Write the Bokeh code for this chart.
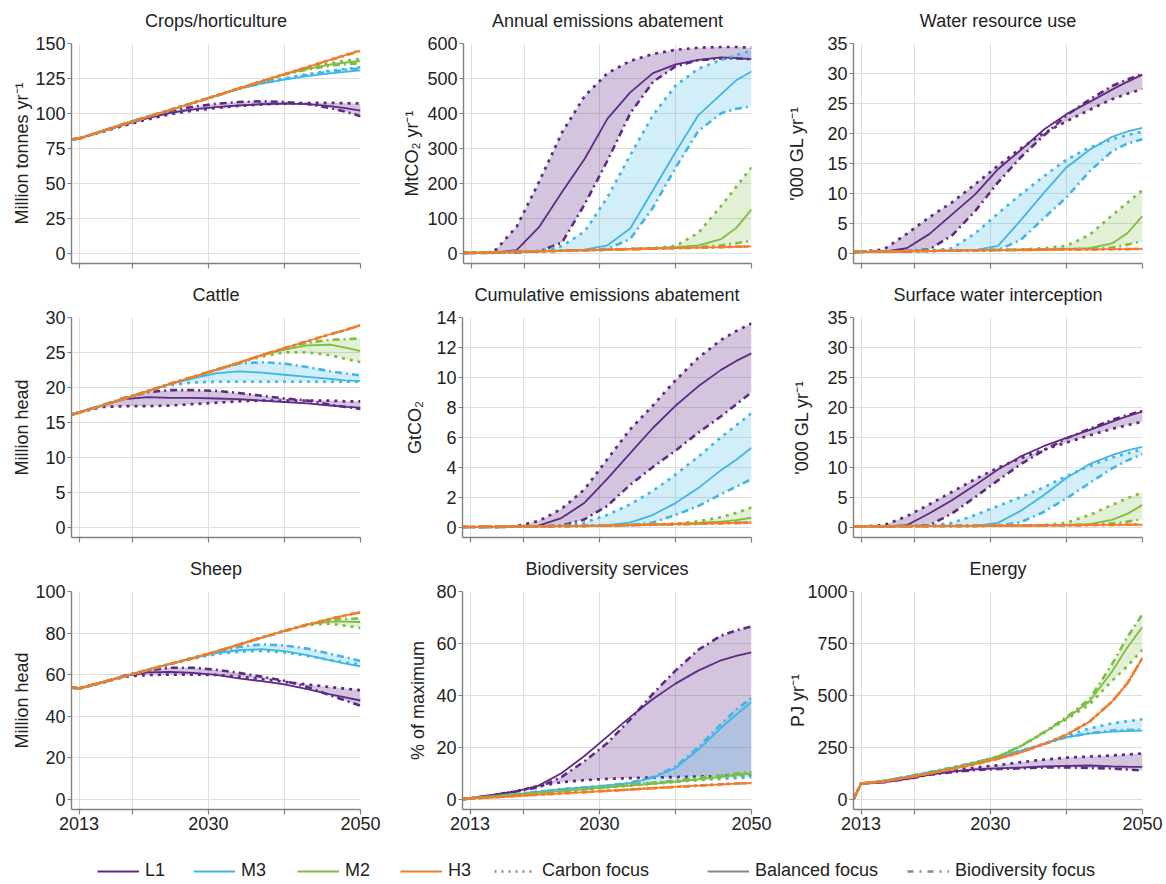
from bokeh.plotting import figure
from bokeh.models import Range1d, FixedTicker, Legend, LegendItem
from bokeh.layouts import column, row
from bokeh.embed import file_html
from bokeh.resources import INLINE

YEARS = [2012, 2013, 2016, 2019, 2022, 2025, 2028, 2031, 2034, 2037, 2040, 2043, 2046, 2048, 2050]
SCENARIOS = ["L1", "M3", "M2", "H3"]
VARIANTS = ["carbon", "balanced", "biodiv"]
X_TICKS = [2013, 2020, 2030, 2040, 2050]

crops = {
    "L1": {"carbon": [81.2, 82, 86.6, 91.4, 95.7, 99.4, 102, 103.8, 105.3, 106.4, 107, 107.4, 107.5, 107.3, 107],
           "balanced": [81.2, 82, 87, 92, 96.5, 100.3, 102.9, 104.5, 105.6, 106.5, 107, 106.6, 105.2, 103.8, 102],
           "biodiv": [81.2, 82, 87.2, 92.6, 97.6, 101.8, 104.8, 106.8, 108.1, 108.6, 108.2, 106.7, 103.8, 101.2, 98]},
    "M3": {"carbon": [81.2, 82, 87.2, 92.5, 97.5, 102.5, 107.5, 112.6, 117.7, 121.8, 125, 128, 130.5, 131.8, 133],
           "balanced": [81.2, 82, 87.2, 92.5, 97.5, 102.5, 107.5, 112.6, 117.6, 121.3, 124.2, 126.6, 128.6, 129.7, 130.7],
           "biodiv": [81.2, 82, 87.2, 92.5, 97.5, 102.5, 107.5, 112.6, 117.7, 121.5, 124.6, 127.4, 129.8, 131, 132.2]},
    "M2": {"carbon": [81.2, 82, 87.2, 92.5, 97.5, 102.5, 107.5, 112.6, 117.8, 122.9, 128, 132.3, 135.8, 137.6, 139],
           "balanced": [81.2, 82, 87.2, 92.5, 97.5, 102.5, 107.5, 112.6, 117.8, 122.9, 128, 131.8, 134.8, 136.3, 137.5],
           "biodiv": [81.2, 82, 87.2, 92.5, 97.5, 102.5, 107.5, 112.6, 117.8, 122.9, 127.8, 131.3, 134, 135.2, 136]},
    "H3": {"carbon": [81.2, 82, 87.2, 92.5, 97.5, 102.5, 107.6, 112.7, 117.9, 123, 128.1, 133.2, 138.4, 141.8, 145.2],
           "balanced": [81.2, 82, 87.2, 92.5, 97.5, 102.5, 107.5, 112.6, 117.8, 122.9, 128, 133.1, 138.2, 141.6, 145],
           "biodiv": [81.2, 82, 87.2, 92.4, 97.4, 102.4, 107.4, 112.5, 117.7, 122.8, 127.9, 133, 138, 141.4, 144.8]},
}

annual = {
    "L1": {"carbon": [0, 0, 3, 75, 205, 345, 450, 515, 550, 570, 582, 588, 590, 590, 588],
           "balanced": [0, 0, 0.5, 8, 75, 175, 270, 385, 460, 515, 540, 553, 560, 558, 555],
           "biodiv": [0, 0, 0.5, 2, 5, 30, 140, 265, 400, 490, 535, 552, 557, 557, 555]},
    "M3": {"carbon": [0, 0.5, 2, 3.5, 6, 20, 62, 160, 280, 395, 480, 528, 553, 567, 580],
           "balanced": [0, 0.5, 2, 3.5, 5, 7, 10, 22, 70, 180, 290, 395, 455, 495, 520],
           "biodiv": [0, 0.5, 2, 3.5, 5, 6.5, 8, 12, 40, 130, 245, 350, 400, 413, 420]},
    "M2": {"carbon": [0, 0.5, 2, 3.5, 5, 6.5, 8, 10, 12, 14, 20, 58, 135, 190, 245],
           "balanced": [0, 0.5, 2, 3.5, 5, 6.5, 8, 10, 12, 14, 17, 22, 40, 72, 125],
           "biodiv": [0, 0.5, 2, 3.5, 5, 6.5, 8, 9.5, 11, 13, 15, 17, 22, 28, 35]},
    "H3": {"carbon": [0, 0.5, 2, 3.5, 5, 6.5, 8, 9.5, 11, 12.5, 14, 15.5, 17, 18, 19],
           "balanced": [0, 0.5, 2, 3.5, 5, 6.5, 8, 9.5, 11, 12.5, 14, 15.5, 17, 18, 19],
           "biodiv": [0, 0.5, 2, 3.5, 5, 6.5, 8, 9.5, 11, 12.5, 14, 15.5, 17, 18, 19]},
}

water = {
    "L1": {"carbon": [0.2, 0.2, 0.6, 3.2, 6.0, 8.5, 11.5, 14.6, 17.5, 20.0, 22.0, 23.9, 25.7, 26.6, 27.4],
           "balanced": [0.2, 0.2, 0.25, 0.8, 3.2, 6.5, 9.8, 14.0, 17.2, 20.6, 23.2, 25.2, 27.3, 28.6, 29.8],
           "biodiv": [0.2, 0.2, 0.25, 0.3, 0.6, 3.0, 7.0, 11.8, 16.0, 19.6, 23.0, 25.6, 27.9, 29.0, 29.9]},
    "M3": {"carbon": [0.2, 0.2, 0.25, 0.3, 0.35, 0.8, 3.3, 6.6, 9.8, 12.8, 15.6, 17.6, 19.0, 19.7, 20.3],
           "balanced": [0.2, 0.2, 0.25, 0.3, 0.35, 0.4, 0.5, 1.2, 5.5, 10.0, 14.3, 17.2, 19.4, 20.3, 20.9],
           "biodiv": [0.2, 0.2, 0.25, 0.3, 0.35, 0.4, 0.45, 0.5, 2.2, 5.8, 9.3, 13.6, 17.0, 18.3, 19.0]},
    "M2": {"carbon": [0.2, 0.2, 0.25, 0.3, 0.35, 0.4, 0.45, 0.5, 0.6, 0.8, 1.2, 3.0, 6.3, 8.4, 10.5],
           "balanced": [0.2, 0.2, 0.25, 0.3, 0.35, 0.4, 0.45, 0.5, 0.55, 0.6, 0.7, 0.8, 1.6, 3.3, 6.2],
           "biodiv": [0.2, 0.2, 0.25, 0.3, 0.35, 0.4, 0.45, 0.5, 0.55, 0.6, 0.65, 0.7, 0.9, 1.4, 2.0]},
    "H3": {"carbon": [0.2, 0.2, 0.25, 0.3, 0.35, 0.4, 0.45, 0.5, 0.5, 0.55, 0.6, 0.6, 0.65, 0.65, 0.7],
           "balanced": [0.2, 0.2, 0.25, 0.3, 0.35, 0.4, 0.45, 0.5, 0.5, 0.55, 0.6, 0.6, 0.65, 0.65, 0.7],
           "biodiv": [0.2, 0.2, 0.25, 0.3, 0.35, 0.4, 0.45, 0.5, 0.5, 0.55, 0.6, 0.6, 0.65, 0.65, 0.7]},
}

cattle = {
    "L1": {"carbon": [16.1, 16.4, 17.2, 17.3, 17.3, 17.4, 17.6, 17.8, 18.0, 18.1, 18.1, 18.1, 18.1, 18.0, 18.0],
           "balanced": [16.1, 16.4, 17.4, 18.3, 18.6, 18.5, 18.5, 18.4, 18.3, 18.1, 17.9, 17.7, 17.4, 17.2, 17.1],
           "biodiv": [16.1, 16.4, 17.4, 18.5, 19.3, 19.6, 19.6, 19.5, 19.2, 18.8, 18.4, 18.1, 17.5, 17.2, 16.9]},
    "M3": {"carbon": [16.1, 16.4, 17.4, 18.4, 19.45, 20.3, 20.7, 20.8, 20.8, 20.8, 20.8, 20.8, 20.8, 20.8, 20.8],
           "balanced": [16.1, 16.4, 17.4, 18.4, 19.45, 20.5, 21.3, 22.0, 22.3, 22.1, 21.8, 21.5, 21.2, 21.0, 20.9],
           "biodiv": [16.1, 16.4, 17.4, 18.4, 19.45, 20.5, 21.4, 22.5, 23.4, 23.6, 23.4, 22.9, 22.3, 22.0, 21.7]},
    "M2": {"carbon": [16.1, 16.4, 17.4, 18.4, 19.45, 20.5, 21.5, 22.5, 23.5, 24.4, 25.0, 25.0, 24.6, 24.1, 23.6],
           "balanced": [16.1, 16.4, 17.4, 18.4, 19.45, 20.5, 21.5, 22.5, 23.5, 24.6, 25.4, 26.0, 26.1, 25.7, 25.2],
           "biodiv": [16.1, 16.4, 17.4, 18.4, 19.45, 20.5, 21.5, 22.5, 23.5, 24.6, 25.6, 26.4, 26.8, 26.9, 27.0]},
    "H3": {"carbon": [16.1, 16.4, 17.4, 18.4, 19.45, 20.5, 21.5, 22.5, 23.5, 24.6, 25.6, 26.6, 27.6, 28.2, 28.9],
           "balanced": [16.1, 16.4, 17.4, 18.4, 19.45, 20.5, 21.5, 22.5, 23.5, 24.6, 25.6, 26.6, 27.6, 28.2, 28.9],
           "biodiv": [16.1, 16.4, 17.4, 18.4, 19.45, 20.5, 21.5, 22.5, 23.5, 24.6, 25.6, 26.6, 27.6, 28.2, 28.9]},
}

cumulative = {
    "L1": {"carbon": [0, 0, 0.01, 0.05, 0.4, 1.2, 2.5, 4.5, 6.5, 8.1, 9.8, 11.3, 12.5, 13.1, 13.6],
           "balanced": [0, 0, 0.01, 0.02, 0.1, 0.6, 1.6, 3.2, 4.9, 6.6, 8.1, 9.4, 10.5, 11.1, 11.6],
           "biodiv": [0, 0, 0.01, 0.02, 0.04, 0.1, 0.5, 1.4, 2.8, 4.0, 5.1, 6.3, 7.4, 8.2, 9.0]},
    "M3": {"carbon": [0, 0, 0.01, 0.02, 0.04, 0.08, 0.3, 0.8, 1.5, 2.4, 3.5, 4.7, 6.0, 6.8, 7.6],
           "balanced": [0, 0, 0.01, 0.02, 0.04, 0.06, 0.08, 0.12, 0.3, 0.8, 1.6, 2.6, 3.8, 4.5, 5.3],
           "biodiv": [0, 0, 0.01, 0.02, 0.04, 0.06, 0.08, 0.1, 0.12, 0.3, 0.8, 1.4, 2.2, 2.7, 3.2]},
    "M2": {"carbon": [0, 0, 0.01, 0.02, 0.04, 0.06, 0.08, 0.1, 0.13, 0.17, 0.23, 0.38, 0.66, 0.95, 1.3],
           "balanced": [0, 0, 0.01, 0.02, 0.04, 0.06, 0.08, 0.1, 0.13, 0.17, 0.21, 0.27, 0.36, 0.46, 0.62],
           "biodiv": [0, 0, 0.01, 0.02, 0.04, 0.06, 0.08, 0.1, 0.12, 0.15, 0.18, 0.21, 0.25, 0.27, 0.3]},
    "H3": {"carbon": [0, 0, 0.01, 0.02, 0.04, 0.06, 0.08, 0.1, 0.13, 0.16, 0.19, 0.22, 0.26, 0.28, 0.3],
           "balanced": [0, 0, 0.01, 0.02, 0.04, 0.06, 0.08, 0.1, 0.13, 0.16, 0.19, 0.22, 0.26, 0.28, 0.3],
           "biodiv": [0, 0, 0.01, 0.02, 0.04, 0.06, 0.08, 0.1, 0.13, 0.16, 0.19, 0.22, 0.26, 0.28, 0.3]},
}

surface = {
    "L1": {"carbon": [0.1, 0.1, 0.3, 1.8, 3.8, 5.9, 8.0, 9.9, 11.5, 12.9, 14.1, 15.3, 16.4, 17.0, 17.6],
           "balanced": [0.1, 0.1, 0.12, 0.3, 2.3, 4.5, 7.0, 9.6, 11.8, 13.5, 14.9, 16.2, 17.6, 18.5, 19.3],
           "biodiv": [0.1, 0.1, 0.12, 0.14, 0.3, 2.3, 5.0, 7.8, 10.5, 12.8, 14.8, 16.4, 17.9, 18.7, 19.4]},
    "M3": {"carbon": [0.1, 0.1, 0.12, 0.14, 0.2, 0.7, 2.0, 3.5, 5.0, 6.6, 8.5, 10.2, 11.6, 12.3, 13.0],
           "balanced": [0.1, 0.1, 0.12, 0.14, 0.16, 0.18, 0.2, 0.7, 2.7, 5.3, 8.2, 10.5, 12.0, 12.8, 13.4],
           "biodiv": [0.1, 0.1, 0.12, 0.14, 0.16, 0.18, 0.2, 0.22, 0.8, 2.5, 4.8, 7.3, 9.8, 11.1, 12.2]},
    "M2": {"carbon": [0.1, 0.1, 0.12, 0.14, 0.16, 0.18, 0.2, 0.22, 0.25, 0.35, 0.7, 2.0, 3.7, 4.8, 5.8],
           "balanced": [0.1, 0.1, 0.12, 0.14, 0.16, 0.18, 0.2, 0.22, 0.25, 0.28, 0.32, 0.5, 1.2, 2.2, 3.7],
           "biodiv": [0.1, 0.1, 0.12, 0.14, 0.16, 0.18, 0.2, 0.22, 0.25, 0.28, 0.3, 0.4, 0.6, 0.9, 1.3]},
    "H3": {"carbon": [0.1, 0.1, 0.12, 0.14, 0.16, 0.18, 0.2, 0.22, 0.25, 0.28, 0.3, 0.33, 0.36, 0.38, 0.4],
           "balanced": [0.1, 0.1, 0.12, 0.14, 0.16, 0.18, 0.2, 0.22, 0.25, 0.28, 0.3, 0.33, 0.36, 0.38, 0.4],
           "biodiv": [0.1, 0.1, 0.12, 0.14, 0.16, 0.18, 0.2, 0.22, 0.25, 0.28, 0.3, 0.33, 0.36, 0.38, 0.4]},
}

sheep = {
    "L1": {"carbon": [53.8, 53.3, 56.0, 59.0, 59.8, 60.0, 60.0, 59.8, 59.0, 57.8, 56.5, 55.2, 54.0, 53.2, 52.5],
           "balanced": [53.8, 53.3, 56.2, 59.2, 61.0, 61.3, 60.8, 59.8, 58.2, 56.8, 55.3, 53.0, 50.5, 49.0, 47.5],
           "biodiv": [53.8, 53.3, 56.2, 59.5, 62.0, 63.3, 63.3, 62.3, 60.8, 59.0, 57.0, 54.0, 50.0, 47.5, 45.0]},
    "M3": {"carbon": [53.8, 53.3, 56.2, 59.2, 62.2, 65.1, 67.7, 69.8, 71.0, 71.4, 70.7, 69.0, 67.0, 65.8, 64.8],
           "balanced": [53.8, 53.3, 56.2, 59.2, 62.2, 65.1, 67.9, 70.3, 71.7, 72.2, 71.3, 69.3, 66.8, 65.3, 64.0],
           "biodiv": [53.8, 53.3, 56.2, 59.2, 62.2, 65.1, 68.0, 70.8, 73.3, 74.5, 74.0, 72.5, 70.0, 68.3, 66.5]},
    "M2": {"carbon": [53.8, 53.3, 56.2, 59.2, 62.2, 65.1, 68.0, 71.0, 74.4, 77.8, 81.0, 83.8, 84.5, 83.5, 82.5],
           "balanced": [53.8, 53.3, 56.2, 59.2, 62.2, 65.1, 68.0, 71.0, 74.4, 77.8, 81.0, 84.0, 85.5, 85.5, 85.3],
           "biodiv": [53.8, 53.3, 56.2, 59.2, 62.2, 65.1, 68.0, 71.0, 74.4, 77.8, 81.0, 84.2, 86.2, 86.8, 87.0]},
    "H3": {"carbon": [53.8, 53.3, 56.2, 59.2, 62.2, 65.1, 68.0, 71.0, 74.4, 77.8, 81.0, 84.0, 86.8, 88.5, 90.0],
           "balanced": [53.8, 53.3, 56.2, 59.2, 62.2, 65.1, 68.0, 71.0, 74.4, 77.8, 81.0, 84.0, 86.8, 88.5, 90.0],
           "biodiv": [53.8, 53.3, 56.2, 59.2, 62.2, 65.1, 68.0, 71.0, 74.4, 77.8, 81.0, 84.0, 86.8, 88.5, 90.0]},
}

biodiversity = {
    "L1": {"carbon": [0, 0.3, 1.5, 3.0, 5.0, 6.5, 7.3, 7.8, 8.1, 8.3, 8.5, 8.7, 8.9, 9.0, 9.2],
           "balanced": [0, 0.3, 1.6, 3.0, 5.2, 10.0, 16.5, 24.0, 31.5, 38.5, 44.5, 49.5, 53.5, 55.2, 56.5],
           "biodiv": [0, 0.3, 1.5, 2.9, 4.5, 8.5, 14.5, 21.5, 30.5, 40.5, 49.5, 57.5, 63.0, 65.0, 66.5]},
    "M3": {"carbon": [0, 0.3, 1.0, 1.8, 2.9, 3.8, 4.5, 5.2, 5.8, 6.3, 6.8, 7.3, 7.8, 8.1, 8.4],
           "balanced": [0, 0.3, 1.0, 1.8, 2.9, 3.8, 4.5, 5.2, 6.2, 8.2, 12.0, 19.0, 27.5, 32.5, 37.5],
           "biodiv": [0, 0.3, 1.0, 1.8, 2.9, 3.8, 4.5, 5.2, 6.3, 8.5, 12.5, 20.0, 29.0, 34.5, 39.0]},
    "M2": {"carbon": [0, 0.3, 1.0, 1.7, 2.4, 3.1, 3.8, 4.5, 5.2, 5.9, 6.6, 7.4, 8.3, 8.9, 9.4],
           "balanced": [0, 0.3, 1.0, 1.7, 2.4, 3.1, 3.8, 4.5, 5.2, 5.9, 6.7, 7.6, 8.6, 9.3, 9.9],
           "biodiv": [0, 0.3, 1.0, 1.7, 2.4, 3.1, 3.9, 4.7, 5.5, 6.3, 7.2, 8.2, 9.2, 9.9, 10.5]},
    "H3": {"carbon": [0, 0.2, 0.7, 1.2, 1.7, 2.2, 2.7, 3.2, 3.7, 4.2, 4.7, 5.2, 5.7, 6.0, 6.2],
           "balanced": [0, 0.2, 0.7, 1.2, 1.7, 2.2, 2.7, 3.2, 3.7, 4.2, 4.7, 5.2, 5.7, 6.0, 6.2],
           "biodiv": [0, 0.2, 0.7, 1.2, 1.7, 2.2, 2.7, 3.2, 3.7, 4.2, 4.7, 5.2, 5.7, 6.0, 6.2]},
}

energy = {
    "L1": {"carbon": [0, 75, 82, 98, 120, 137, 152, 163, 178, 190, 200, 205, 210, 215, 220],
           "balanced": [0, 75, 82, 98, 118, 133, 143, 148, 152, 157, 160, 162, 158, 156, 155],
           "biodiv": [0, 75, 82, 97, 117, 130, 140, 145, 148, 152, 153, 150, 147, 143, 138]},
    "M3": {"carbon": [0, 75, 88, 108, 130, 152, 177, 203, 233, 266, 305, 340, 365, 375, 385],
           "balanced": [0, 75, 88, 108, 130, 152, 177, 203, 232, 265, 298, 315, 325, 328, 330],
           "biodiv": [0, 75, 88, 108, 130, 152, 177, 203, 232, 264, 298, 318, 330, 333, 335]},
    "M2": {"carbon": [0, 75, 87, 105, 126, 150, 175, 205, 255, 318, 385, 455, 570, 640, 720],
           "balanced": [0, 75, 87, 105, 126, 150, 175, 205, 255, 320, 390, 470, 615, 730, 830],
           "biodiv": [0, 75, 87, 105, 126, 150, 175, 205, 256, 322, 395, 480, 650, 780, 890]},
    "H3": {"carbon": [0, 75, 85, 103, 123, 145, 168, 195, 225, 265, 310, 372, 470, 557, 680],
           "balanced": [0, 75, 85, 103, 123, 145, 168, 195, 225, 265, 310, 372, 470, 557, 680],
           "biodiv": [0, 75, 85, 103, 123, 145, 168, 195, 225, 265, 310, 372, 470, 557, 680]},
}

TITLES = ["Crops/horticulture", "Annual emissions abatement", "Water resource use",
          "Cattle", "Cumulative emissions abatement", "Surface water interception",
          "Sheep", "Biodiversity services", "Energy"]
Y_LABELS = ["Million tonnes yr⁻¹", "MtCO₂ yr⁻¹", "'000 GL yr⁻¹",
            "Million head", "GtCO₂", "'000 GL yr⁻¹",
            "Million head", "% of maximum", "PJ yr⁻¹"]
Y_MAX = [150, 600, 35, 30, 14, 35, 100, 80, 1000]
Y_STEP = [25, 100, 5, 5, 2, 5, 20, 20, 250]
DATASETS = [crops, annual, water, cattle, cumulative, surface, sheep, biodiversity, energy]

LEGEND_LABELS = ["L1", "M3", "M2", "H3", "Carbon focus", "Balanced focus", "Biodiversity focus"]

# ---- styling ----
FONT = "Liberation Sans"
TXT = "#222222"
COLORS = {"L1": "#5e2a84", "M3": "#41b6e6", "M2": "#7dbd42", "H3": "#ee7d31"}
BAND_ALPHA = {"L1": 0.27, "M3": 0.24, "M2": 0.22, "H3": 0.15}
DASH = {"carbon": "3 5", "balanced": "solid", "biodiv": "7 4 2 4"}
WIDTH = {"carbon": 2.7, "balanced": 1.8, "biodiv": 2.6}

COL_W = [399, 381, 384]
COL_BL = [71, 63, 73]
COL_BR = [39, 29, 22]
ROW_H = [274, 274, 290]
ROW_BT = [43, 43, 43]
ROW_BB = [11, 11, 29]
LABEL_STANDOFF = [0, 2, 17, 10, 8, 12, 0, 5, -4]


def make_panel(i):
    r, c = divmod(i, 3)
    ymax, ystep = Y_MAX[i], Y_STEP[i]
    p = figure(width=COL_W[c], height=ROW_H[r], output_backend="svg", toolbar_location=None,
               x_range=Range1d(2012, 2050), y_range=Range1d(-0.05 * ymax, ymax),
               min_border_left=COL_BL[c], min_border_right=COL_BR[c],
               min_border_top=ROW_BT[r], min_border_bottom=ROW_BB[r],
               title=TITLES[i])
    p.outline_line_color = None
    p.background_fill_color = "white"
    p.title.align = "center"
    p.title.vertical_align = "top"
    p.title.text_font = FONT
    p.title.text_font_size = "18px"
    p.title.text_font_style = "normal"
    p.title.text_color = TXT
    p.title.standoff = 21

    data = DATASETS[i]
    for s in SCENARIOS:
        d = data[s]
        p.varea(x=YEARS, y1=d["carbon"], y2=d["biodiv"], fill_color=COLORS[s], fill_alpha=BAND_ALPHA[s])
    for s in SCENARIOS:
        d = data[s]
        for v in ["carbon", "biodiv", "balanced"]:
            p.line(YEARS, d[v], line_color=COLORS[s], line_width=WIDTH[v], line_dash=DASH[v])

    xa, ya = p.xaxis[0], p.yaxis[0]
    xa.ticker = FixedTicker(ticks=X_TICKS)
    ya.ticker = FixedTicker(ticks=list(range(0, ymax + 1, ystep)))
    for ax in (xa, ya):
        ax.axis_line_color = "#808080"
        ax.axis_line_width = 1.4
        ax.major_tick_line_color = "#808080"
        ax.major_tick_line_width = 1.2
        ax.major_tick_in = 0
        ax.minor_tick_line_color = None
        ax.major_label_text_font = FONT
        ax.major_label_text_font_size = "18px"
        ax.major_label_text_color = TXT
    xa.major_tick_out = 5
    ya.major_tick_out = 4
    ya.major_label_standoff = 2
    xa.major_label_standoff = 2
    if r == 2:
        xa.major_label_overrides = {2020: "", 2040: ""}
    else:
        # ticks only: labels are not drawn in the upper rows
        xa.major_label_text_font_size = "2px"
        xa.major_label_text_color = None
        xa.major_label_standoff = 0
    ya.axis_label = Y_LABELS[i]
    ya.axis_label_text_font = FONT
    ya.axis_label_text_font_size = "18px"
    ya.axis_label_text_font_style = "normal"
    ya.axis_label_text_color = TXT
    ya.axis_label_standoff = LABEL_STANDOFF[i]
    p.xgrid.ticker = FixedTicker(ticks=X_TICKS)
    p.ygrid.ticker = FixedTicker(ticks=list(range(0, ymax + 1, ystep)))
    p.grid.grid_line_color = "#dedede"
    p.grid.grid_line_width = 1
    return p


panels = [make_panel(i) for i in range(9)]
rows = [row(*panels[k * 3:(k + 1) * 3]) for k in range(3)]

# legend strip (dummy renderers sit outside the visible range)
lf = figure(width=1164, height=44, output_backend="svg", toolbar_location=None,
            x_range=Range1d(0, 1), y_range=Range1d(0, 1),
            min_border=0, x_axis_type=None, y_axis_type=None)
lf.outline_line_color = None
lf.grid.visible = False
LEG_X = [97, 193, 297, 400, 494, 707, 907]
leg_styles = [(COLORS["L1"], "solid", 2.2), (COLORS["M3"], "solid", 2.2), (COLORS["M2"], "solid", 2.2),
              (COLORS["H3"], "solid", 2.2), ("#888888", "2 5", 2.4), ("#888888", "solid", 2.0),
              ("#888888", "6 6 2 6", 2.4)]
for lab, (col, dash, w), lx in zip(LEGEND_LABELS, leg_styles, LEG_X):
    rr = lf.line(x=[5, 6], y=[5, 6], line_color=col, line_dash=dash, line_width=w)
    lg = Legend(items=[LegendItem(label=lab, renderers=[rr])], location=(lx, 1),
                orientation="horizontal", glyph_width=42, glyph_height=20,
                label_standoff=6, padding=0, margin=0, spacing=0,
                border_line_color=None, background_fill_alpha=0,
                label_text_font=FONT, label_text_font_size="18px", label_text_color=TXT)
    lf.add_layout(lg)

layout = column(*rows, lf)
open("out.html", "w").write(file_html(layout, INLINE, title="Scenarios"))
